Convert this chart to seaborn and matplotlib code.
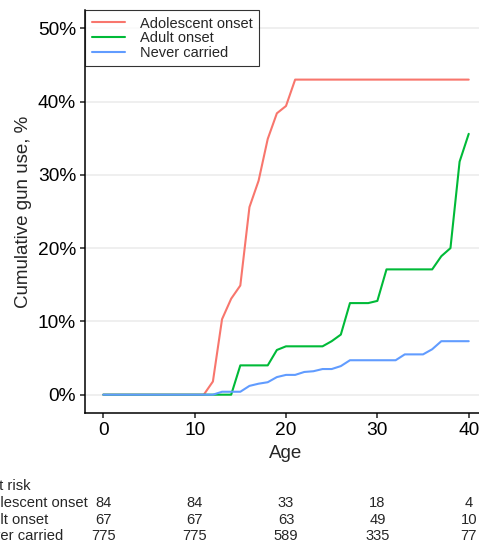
import numpy as np
import pandas as pd
import matplotlib
matplotlib.use("Agg")
import matplotlib.pyplot as plt
import matplotlib.transforms as mtransforms
import seaborn as sns

ages = list(range(0, 41))
adolescent = [0, 0, 0, 0, 0, 0, 0, 0, 0, 0, 0, 0,
              1.8, 10.3, 13.1, 14.9, 25.6, 29.2, 34.9, 38.4, 39.4,
              43.0, 43.0, 43.0, 43.0, 43.0, 43.0, 43.0, 43.0, 43.0, 43.0,
              43.0, 43.0, 43.0, 43.0, 43.0, 43.0, 43.0, 43.0, 43.0, 43.0]
adult = [0, 0, 0, 0, 0, 0, 0, 0, 0, 0, 0, 0, 0, 0, 0,
         4.0, 4.0, 4.0, 4.0, 6.1, 6.6, 6.6, 6.6, 6.6, 6.6, 7.3, 8.2,
         12.5, 12.5, 12.5, 12.8, 17.1, 17.1, 17.1, 17.1, 17.1, 17.1,
         18.9, 20.0, 31.8, 35.6]
never = [0, 0, 0, 0, 0, 0, 0, 0, 0, 0, 0, 0, 0,
         0.4, 0.4, 0.4, 1.2, 1.5, 1.7, 2.4, 2.7, 2.7, 3.1, 3.2, 3.5, 3.5,
         3.9, 4.7, 4.7, 4.7, 4.7, 4.7, 4.7, 5.5, 5.5, 5.5, 6.2, 7.3, 7.3,
         7.3, 7.3]
groups = ["Adolescent onset", "Adult onset", "Never carried"]
colors = ["#F8766D", "#00BA38", "#619CFF"]

risk_ages = [0, 10, 20, 30, 40]
risk_adolescent = [84, 84, 33, 18, 4]
risk_adult = [67, 67, 63, 49, 10]
risk_never = [775, 775, 589, 335, 77]

yticks = [0, 10, 20, 30, 40, 50]
xticks = [0, 10, 20, 30, 40]

df = pd.concat([
    pd.DataFrame({"Age": ages, "val": vals, "group": g})
    for g, vals in zip(groups, [adolescent, adult, never])
], ignore_index=True)

sns.set_style("white")
plt.rcParams["font.family"] = ["Liberation Sans", "DejaVu Sans"]

W, H = 479, 542
fig = plt.figure(figsize=(W / 100, H / 100), dpi=100)
ax = fig.add_axes([85 / W, 1 - 413 / H, (487 - 85) / W, (413 - 10) / H])

sns.lineplot(data=df, x="Age", y="val", hue="group", hue_order=groups,
             palette=colors, linewidth=1.5, ax=ax, estimator=None)

ax.set_xlim(-2, 42)
ax.set_ylim(-2.5, 52.5)
ax.set_yticks(yticks)
ax.set_yticklabels([f"{v}%" for v in yticks])
ax.set_xticks(xticks)
ax.grid(axis="y", color="#EBEBEB", linewidth=1.1)
ax.grid(axis="x", visible=False)
ax.set_axisbelow(True)
for s in ["top", "right"]:
    ax.spines[s].set_visible(False)
for s in ["left", "bottom"]:
    ax.spines[s].set_color("black")
    ax.spines[s].set_linewidth(1.1)
ax.tick_params(axis="both", which="major", length=3.5, width=1.1, color="#222222",
               labelsize=13.8, labelcolor="black", pad=3, bottom=True, left=True)
ax.set_xlabel("Age", fontsize=13.5, labelpad=4)
ax.set_ylabel("Cumulative gun use, %", fontsize=13.5, labelpad=4)

handles, labels = ax.get_legend_handles_labels()
leg = ax.legend(handles, labels, loc="upper left", bbox_to_anchor=(0, 1),
                borderaxespad=0, frameon=True, fancybox=False, edgecolor="black",
                fontsize=10.5, handlelength=2.3, handletextpad=1.0,
                labelspacing=0.04, borderpad=0.45)
leg.get_frame().set_linewidth(0.8)

# risk table
trans = mtransforms.blended_transform_factory(ax.transData, fig.transFigure)
fs = 10.6
row_y = [1 - 503 / H, 1 - 519.5 / H, 1 - 536.5 / H]
fig.text(-65.5 / W, 1 - 486 / H, "Number at risk", fontsize=fs, ha="left", va="center")
for lab, y, vals in zip(groups, row_y, [risk_adolescent, risk_adult, risk_never]):
    fig.text(-25.8 / W, y, lab, fontsize=fs, ha="left", va="center")
    for a, v in zip(risk_ages, vals):
        ax.text(a, y, str(v), transform=trans, fontsize=fs, ha="center",
                va="center", clip_on=False)

fig.savefig("out.png", dpi=100)
